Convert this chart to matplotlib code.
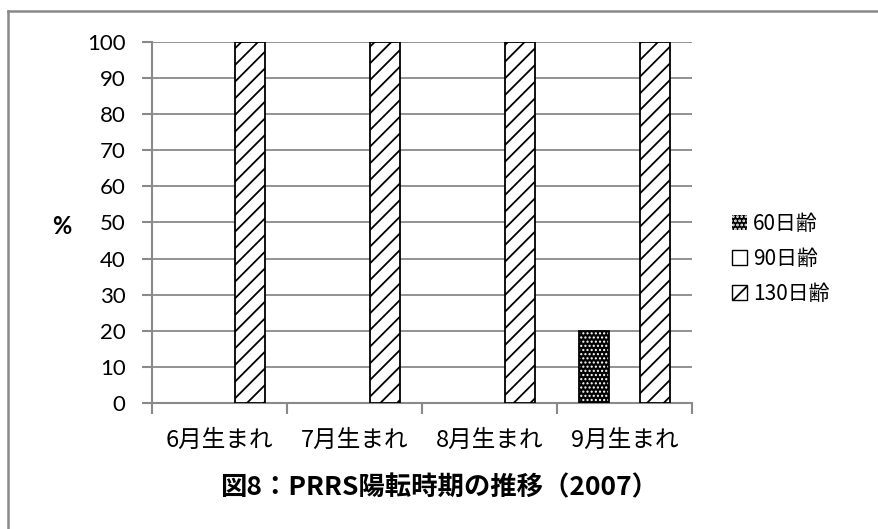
import matplotlib
matplotlib.use("Agg")
import matplotlib.pyplot as plt
import numpy as np
from matplotlib.patches import Patch
from matplotlib.lines import Line2D

categories = ["6月生まれ", "7月生まれ", "8月生まれ", "9月生まれ"]
series_names = ["60日齢", "90日齢", "130日齢"]
age60 = [0, 0, 0, 20]
age90 = [0, 0, 0, 0]
age130 = [100, 100, 100, 100]
yticks = [0, 10, 20, 30, 40, 50, 60, 70, 80, 90, 100]

jp = ["Noto Sans CJK JP", "DejaVu Sans"]
num_font = ["Lato", "DejaVu Sans"]
grey = "#898989"


def edge_widths(values, lw=1.3):
    # no outline for empty (zero-height) bars
    return [lw if v > 0 else 0 for v in values]


fig = plt.figure(figsize=(8.79, 5.29), dpi=100)
ax = fig.add_axes([0.1729, 0.2382, 0.6143, 0.6824])

x = np.arange(len(categories))
w = 0.226

# 60日齢: black fill with white dots
plt.rcParams["hatch.linewidth"] = 1.0
ax.bar(x - w, age60, w, facecolor="black", edgecolor="white", hatch="....",
       linewidth=0, zorder=3)
ax.bar(x - w, age60, w, fill=False, edgecolor="black",
       linewidth=edge_widths(age60), zorder=4)
# 90日齢: plain white
ax.bar(x, age90, w, facecolor="white", edgecolor="black",
       linewidth=edge_widths(age90), zorder=3)
# 130日齢: diagonal hatch
plt.rcParams["hatch.linewidth"] = 1.3
ax.bar(x + w, age130, w, facecolor="white", edgecolor="black", hatch="//",
       linewidth=edge_widths(age130), zorder=3)

ax.set_xlim(-0.5, len(categories) - 0.5)
ax.set_ylim(0, 100)
ax.set_yticks(yticks)
ax.set_yticklabels([str(v) for v in yticks], fontfamily=num_font, fontsize=16)
ax.set_xticks(x)
ax.set_xticklabels(categories, fontfamily=jp, fontsize=17)
ax.set_xticks(np.arange(-0.5, len(categories), 1.0), minor=True)
ax.tick_params(axis="x", which="major", length=0, pad=19)
ax.tick_params(axis="x", which="minor", length=8, width=1.5, color=grey,
               direction="out")
ax.tick_params(axis="y", length=7, width=1.5, color=grey, pad=12)

ax.yaxis.grid(True, color=grey, linewidth=1.3, zorder=0)
ax.set_axisbelow(True)
for s in ["top", "right"]:
    ax.spines[s].set_visible(False)
for s in ["left", "bottom"]:
    ax.spines[s].set_color(grey)
    ax.spines[s].set_linewidth(1.5)

ax.set_ylabel("%", fontfamily=num_font, fontsize=17, fontweight="bold",
              rotation=0, va="center", ha="center")
ax.yaxis.set_label_coords(-0.167, 0.49)

plt.rcParams["hatch.linewidth"] = 1.0
h60 = Patch(facecolor="black", edgecolor="white", hatch="....", linewidth=0)
plt.rcParams["hatch.linewidth"] = 1.3
h90 = Patch(facecolor="white", edgecolor="black", linewidth=1.0)
h130 = Patch(facecolor="white", edgecolor="black", hatch="//", linewidth=1.0)
leg = fig.legend([h60, h90, h130], series_names, loc="center left",
                 bbox_to_anchor=(0.812, 0.511), frameon=False,
                 prop={"family": jp, "size": 15},
                 handlelength=0.7, handleheight=0.7, handletextpad=0.3,
                 labelspacing=0.62)

fig.text(0.5, 0.077, "図8：PRRS陽転時期の推移（2007）", ha="center",
         va="center", fontfamily=jp, fontsize=19, fontweight="bold")

# outer frame
fig.add_artist(Line2D([0.0091, 1.0], [0.979, 0.979], color=grey,
                      linewidth=1.8, transform=fig.transFigure))
fig.add_artist(Line2D([0.0091, 0.0091], [0.0, 0.979], color=grey,
                      linewidth=1.8, transform=fig.transFigure))

fig.savefig("out.png", dpi=100)
